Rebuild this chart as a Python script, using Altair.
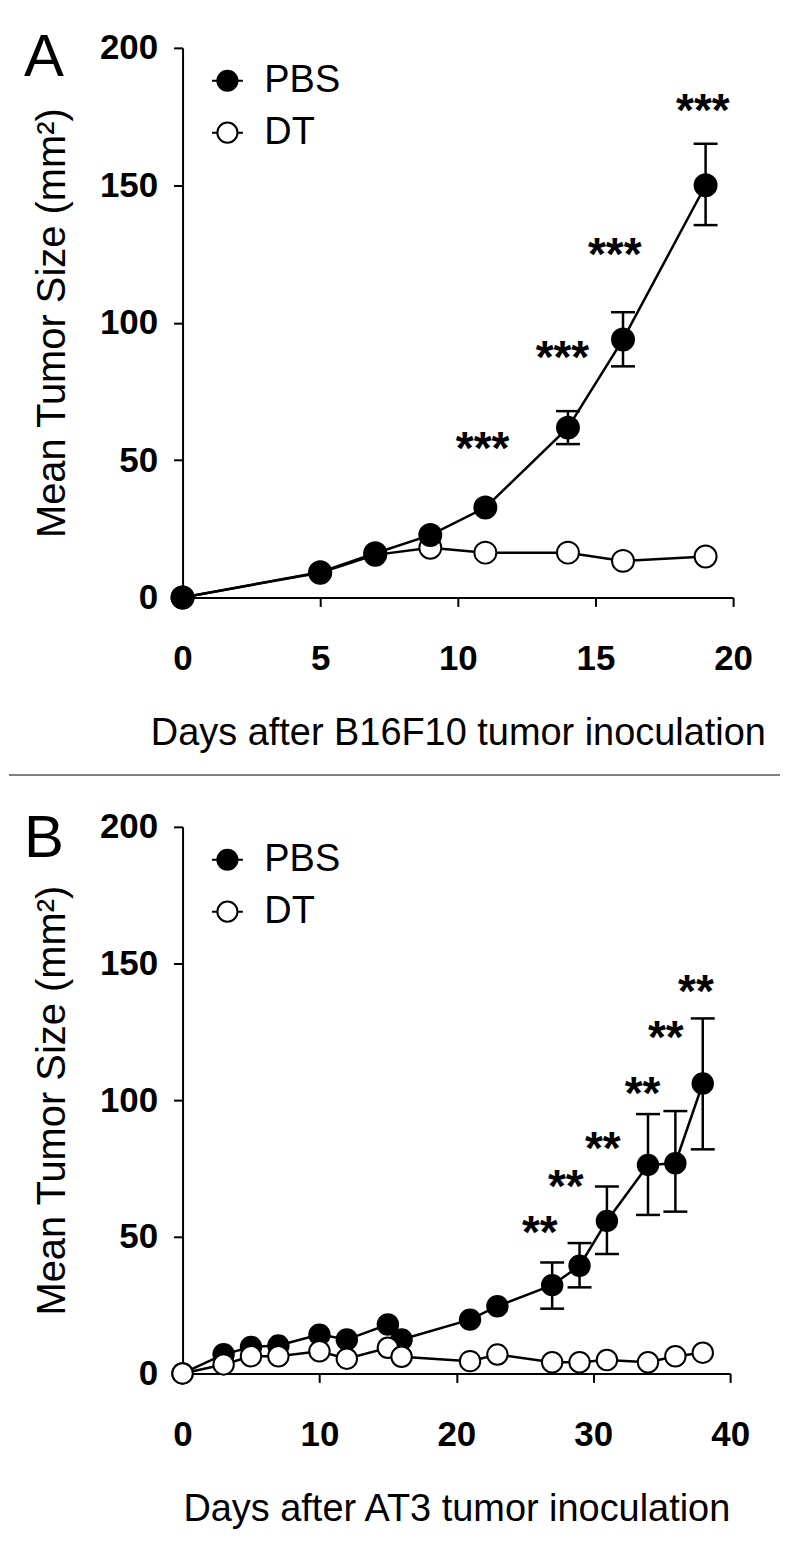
import altair as alt
import pandas as pd

FONT = "Liberation Sans"

# ---------------- Panel A data (B16F10) ----------------
a_days = [0, 5, 7, 9, 11, 14, 16, 19]
a_pbs = [0, 9.2, 16.1, 22.7, 32.7, 61.8, 93.9, 150.0]
a_dt = [0, 9.0, 15.5, 18.1, 16.3, 16.3, 13.3, 14.9]
a_err_days = [14, 16, 19]
a_err_lo = [55.8, 84.1, 135.5]
a_err_hi = [67.8, 103.8, 165.1]
a_star_x = [10.9, 13.8, 15.7, 18.9]
a_star_y = [58.4, 91.5, 129.0, 181.2]
a_star_label = ["***", "***", "***", "***"]

# ---------------- Panel B data (AT3) ----------------
b_days = [0, 3, 5, 7, 10, 12, 15, 16, 21, 23, 27, 29, 31, 34, 36, 38]
b_pbs = [0, 7.0, 9.7, 10.2, 14.2, 12.4, 17.9, 12.4, 19.7, 24.6, 32.3, 39.4, 55.8, 76.3, 76.9, 106.1]
b_dt = [0, 3.3, 6.3, 6.3, 8.1, 5.4, 9.4, 6.1, 4.5, 6.9, 4.1, 4.1, 4.9, 4.1, 6.3, 7.6]
b_err_days = [27, 29, 31, 34, 36, 38]
b_err_lo = [23.7, 31.5, 43.7, 58.0, 59.2, 82.0]
b_err_hi = [40.6, 47.7, 68.4, 94.9, 96.0, 129.9]
b_star_x = [26.1, 28.0, 30.7, 33.6, 35.3, 37.5]
b_star_y = [55.6, 72.6, 86.6, 106.7, 127.1, 143.8]
b_star_label = ["**", "**", "**", "**", "**", "**"]

groups = ["PBS", "DT"]
y_ticks = [0, 50, 100, 150, 200]
y_title = "Mean Tumor Size (mm²)"

LEGEND_SYMBOL = ("M-1,0L-0.65,0M0.65,0L1,0"
                 "M-0.65,0A0.65,0.65 0 1,0 0.65,0A0.65,0.65 0 1,0 -0.65,0Z")


def panel(days, pbs, dt, err_days, err_lo, err_hi, star_x, star_y, star_label,
          letter, letter_y, xmax, xstep, xtitle, width, height, pt_size,
          pbs_on_top, separator):
    order = ["DT", "PBS"] if pbs_on_top else ["PBS", "DT"]
    rows = []
    for g in order:
        vals = pbs if g == "PBS" else dt
        for d, v in zip(days, vals):
            rows.append({"group": g, "day": d, "val": v})
    pts = pd.DataFrame(rows)
    err = pd.DataFrame({"day": err_days, "lo": err_lo, "hi": err_hi})
    caps = pd.DataFrame({"day": err_days + err_days, "val": err_lo + err_hi})
    stars = pd.DataFrame({"day": star_x, "val": star_y, "label": star_label})
    one = pd.DataFrame({"k": [0]})

    xscale = alt.Scale(domain=[0, xmax], nice=False, zero=True)
    yscale = alt.Scale(domain=[0, 200], nice=False)
    xaxis = alt.Axis(values=list(range(0, xmax + 1, xstep)), title=xtitle,
                     labelFlush=False, labelOverlap=False)
    yaxis = alt.Axis(values=y_ticks, title=y_title, labelFlush=False,
                     labelOverlap=False)
    X = alt.X("day:Q", scale=xscale, axis=xaxis)

    bars = alt.Chart(err).mark_rule(color="black", strokeWidth=2.5).encode(
        x=X, y=alt.Y("lo:Q", scale=yscale, axis=yaxis), y2="hi:Q")
    capm = alt.Chart(caps).mark_point(shape="stroke", size=576, color="black",
                                      strokeWidth=2.5, opacity=1).encode(
        x=X, y=alt.Y("val:Q", scale=yscale, axis=yaxis))
    lines = alt.Chart(pts).mark_line(color="black", strokeWidth=2.5).encode(
        x=X, y=alt.Y("val:Q", scale=yscale, axis=yaxis),
        detail="group:N")
    points = alt.Chart(pts).mark_point(filled=True, size=pt_size, stroke="black",
                                       strokeWidth=2, opacity=1,
                                       fillOpacity=1, strokeOpacity=1).encode(
        x=X, y=alt.Y("val:Q", scale=yscale, axis=yaxis),
        fill=alt.Fill("group:N",
                      scale=alt.Scale(domain=groups, range=["black", "white"]),
                      sort=groups,
                      legend=alt.Legend(orient="none", legendX=26, legendY=14,
                                        title=None, padding=0,
                                        symbolType=LEGEND_SYMBOL,
                                        symbolSize=961,
                                        symbolStrokeColor="black",
                                        symbolStrokeWidth=2,
                                        labelFont=FONT, labelFontSize=38,
                                        labelColor="black", labelOffset=18,
                                        rowPadding=14)))
    txt = alt.Chart(stars).mark_text(font=FONT, fontSize=46, fontWeight="bold",
                                     color="black", align="center",
                                     baseline="middle", dy=13).encode(
        x=X, y=alt.Y("val:Q", scale=yscale, axis=yaxis), text="label:N")
    let = alt.Chart(one).mark_text(text=letter, font=FONT, fontSize=60,
                                   color="black", align="left",
                                   baseline="top").encode(
        x=alt.value(-159), y=alt.value(letter_y))
    layers = [bars, capm, lines, points, txt, let]
    if separator:
        sep = alt.Chart(one).mark_rule(color="#808080", strokeWidth=2).encode(
            x=alt.value(-174), x2=alt.value(599), y=alt.value(729))
        layers.append(sep)
    return alt.layer(*layers).properties(width=width, height=height)


chart_a = panel(a_days, a_pbs, a_dt, a_err_days, a_err_lo, a_err_hi,
                a_star_x, a_star_y, a_star_label, "A", -19, 20, 5,
                "Days after B16F10 tumor inoculation", 552, 551, 484,
                True, True)
chart_b = panel(b_days, b_pbs, b_dt, b_err_days, b_err_lo, b_err_hi,
                b_star_x, b_star_y, b_star_label, "B", -17, 40, 10,
                "Days after AT3 tumor inoculation", 549, 548, 420,
                False, False)

chart = alt.vconcat(chart_a, chart_b, spacing=33).resolve_scale(
    x="independent", y="independent", fill="independent"
).resolve_legend(fill="independent").properties(
    padding={"left": 0, "top": 18, "right": 0, "bottom": 0},
    background="white"
).configure_view(stroke=None).configure_axis(
    domainColor="black", domainWidth=2, tickColor="black", tickWidth=2,
    tickSize=9, labelFont=FONT, labelFontSize=35, labelFontWeight="bold",
    labelColor="black", titleFont=FONT, titleFontWeight="normal",
    titleColor="black", grid=False
).configure_axisX(labelPadding=35, titleFontSize=38, titlePadding=38
).configure_axisY(labelPadding=16, titleFontSize=40, titlePadding=27)

chart.save("out.html", embed_options={"renderer": "svg", "actions": False})
